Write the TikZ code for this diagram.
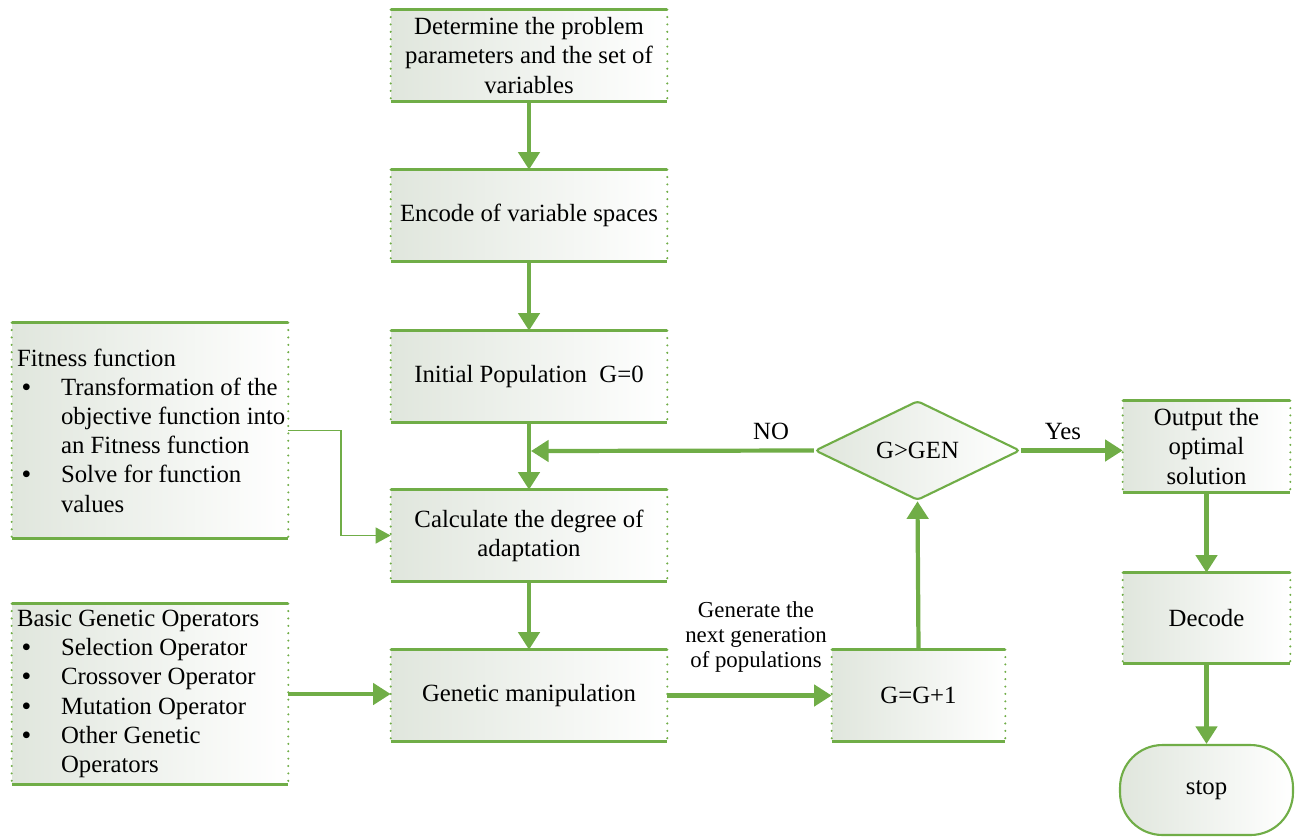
\documentclass[tikz,border=0pt]{standalone}
\usepackage{fontspec}
\setmainfont{Liberation Serif}
\usetikzlibrary{arrows.meta,shapes.geometric,calc}
\definecolor{gr}{HTML}{70AD47}
\definecolor{shd}{RGB}{224,230,221}
\newcommand{\bul}{\makebox[0.88cm][l]{\hspace{0.1cm}\textbf{\textbullet}}}
\newcommand{\bitem}[1]{\mbox{\bul#1}}
\newcommand{\bcont}[1]{\mbox{\hspace*{0.88cm}#1}}
\begin{document}
\begin{tikzpicture}[x=0.02cm,y=-0.02cm,
  font=\fontsize{14.1}{16.6}\selectfont,
  every node/.append style={execute at begin node={\spaceskip=0pt\xspaceskip=0pt}},
  shadefill/.style={left color=shd, right color=white},
  procbox/.style={rectangle, shadefill, minimum width=5.52cm, minimum height=1.82cm, align=center, inner sep=0pt},
  listbox/.style={rectangle, shadefill, minimum width=5.52cm, inner xsep=0.1cm, inner ysep=0pt, text width=5.32cm, align=left},
  edgesolid/.style={draw=gr, line width=1.5pt},
  edgedot/.style={draw=gr, line width=1.3pt, line cap=round, dash pattern=on 0pt off 4.2pt},
  thickarr/.style={draw=gr, line width=2.4pt, -{Triangle[width=12pt,length=10pt]}},
  thinarr/.style={draw=gr, line width=1pt, -{Triangle[width=9pt,length=8.5pt]}},
  lbl/.style={align=center, inner sep=0pt}
]
\useasboundingbox (0,0) rectangle (1301,836);

% process boxes
\node[procbox] (b1) at (529,55.5) {Determine the problem\\parameters and the set of\\variables};
\node[procbox] (b2) at (529,215.5) {Encode of variable spaces};
\node[procbox] (b3) at (529,376.5) {Initial Population\ \ G=0};
\node[procbox] (b4) at (529,535.5) {Calculate the degree of\\adaptation};
\node[procbox] (b5) at (529,695.5) {Genetic manipulation};
\node[procbox, minimum width=3.46cm] (gg) at (918.5,695.5) {G=G+1};
\node[procbox, minimum width=3.34cm] (out) at (1206.5,446.5) {Output the\\optimal\\solution};
\node[procbox, minimum width=3.34cm, minimum height=1.8cm] (dec) at (1206.5,618) {Decode};

% list boxes
\node[listbox, minimum height=4.3cm] (fit) at (150,430.5) {Fitness function\\
\bitem{Transformation of the}\\
\bcont{objective function into}\\
\bcont{an Fitness function}\\
\bitem{Solve for function}\\
\bcont{values}};
\node[listbox, minimum height=3.6cm] (basic) at (150,694) {Basic Genetic Operators\\
\bitem{Selection Operator}\\
\bitem{Crossover Operator}\\
\bitem{Mutation Operator}\\
\bitem{Other Genetic}\\
\bcont{Operators}};

% box edges
\foreach \n in {b1,b2,b3,b4,b5,gg,out,dec,fit,basic} {
  \draw[edgedot] (\n.north west) -- (\n.south west);
  \draw[edgedot] (\n.north east) -- (\n.south east);
  \draw[edgesolid] (\n.north west) -- (\n.north east);
  \draw[edgesolid] (\n.south west) -- (\n.south east);
}

% decision
\node[diamond, shadefill, draw=gr, line width=1.2pt, rounded corners=2pt, minimum width=4.1cm, minimum height=1.98cm, inner sep=0pt] (dia) at (917.5,450.5) {G>GEN};

% terminator
\node[rectangle, shadefill, draw=gr, line width=1.2pt, rounded corners=0.85cm, minimum width=3.46cm, minimum height=1.8cm] (stop) at (1206.5,790) {stop};

% connectors
\draw[thickarr] (b1.south) -- (b2.north);
\draw[thickarr] (b2.south) -- (b3.north);
\draw[thickarr] (b3.south) -- (b4.north);
\draw[thickarr] (b4.south) -- (b5.north);
\coordinate (noend) at (531,451);
\draw[thickarr] (dia.west) -- (noend);
\draw[thinarr] (fit.east) -- ++(53,0) |- (b4.west);
\draw[thickarr] (basic.east) -- (basic.east -| b5.west);
\draw[thickarr] (b5.east) -- (gg.west);
\draw[thickarr] (gg.north) -- (dia.south);
\draw[thickarr] (dia.east) -- (dia.east -| out.west);
\draw[thickarr] (out.south) -- (dec.north);
\draw[thickarr] (dec.south) -- (stop.north);

% labels
\node[lbl] (lno) at (771,431) {NO};
\node[lbl] (lyes) at (1063,431) {Yes};
\node[lbl, font=\fontsize{13}{14}\selectfont] (lgen) at (756,637) {Generate the\\next generation\\of populations};
\end{tikzpicture}
\end{document}
